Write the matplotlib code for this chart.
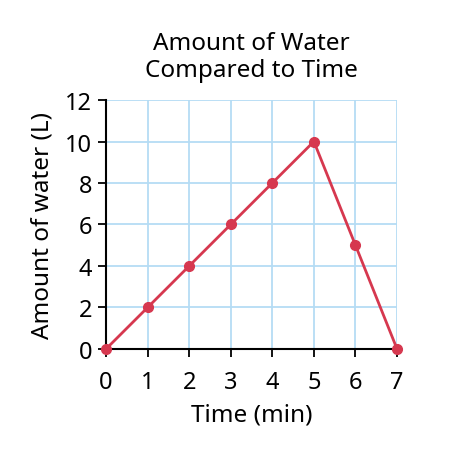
import matplotlib.pyplot as plt

time_min = [0, 1, 2, 3, 4, 5, 6, 7]
water_l = [0, 2, 4, 6, 8, 10, 5, 0]
x_ticks = [0, 1, 2, 3, 4, 5, 6, 7]
y_ticks = [0, 2, 4, 6, 8, 10, 12]

plt.rcParams['font.family'] = ['Noto Sans', 'DejaVu Sans']

fig = plt.figure(figsize=(4.5, 4.56), dpi=100)
ax = fig.add_axes([0.2356, 0.2325, 0.6467, 0.546])

ax.plot(time_min, water_l, '-o', color='#d6384f', linewidth=2,
        markersize=7, clip_on=False, zorder=3)

ax.set_xlim(0, 7)
ax.set_ylim(0, 12)
ax.set_xticks(x_ticks)
ax.set_yticks(y_ticks)
ax.grid(True, color='#b5dcf4', linewidth=1.3)
ax.set_axisbelow(True)
for side in ['top', 'right']:
    ax.spines[side].set_visible(False)
for side in ['left', 'bottom']:
    ax.spines[side].set_linewidth(1.5)
    ax.spines[side].set_color('black')
ax.tick_params(direction='out', length=6, width=1.3, labelsize=17)
ax.tick_params(axis='x', pad=9)
ax.tick_params(axis='y', pad=4)

ax.set_xlabel("Time (min)", fontsize=17.5, labelpad=6)
ax.set_ylabel("Amount of water (L)", fontsize=17.5, labelpad=8)
ax.set_title("Amount of Water\nCompared to Time", fontsize=17.5, pad=17,
             linespacing=1.2)

fig.savefig("out.png", dpi=100)
